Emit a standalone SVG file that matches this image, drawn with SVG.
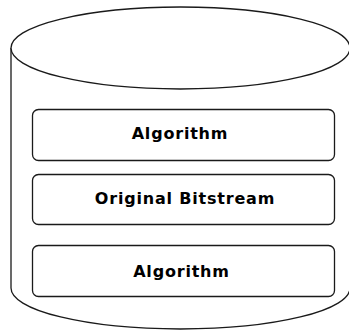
<svg xmlns="http://www.w3.org/2000/svg" width="349" height="330" viewBox="0 0 349 330">
<style>
.cyl{fill:#fff;stroke:#1a1a1a;stroke-width:1.3}
.box{fill:#fff;stroke:#1a1a1a;stroke-width:1.3}
.lbl{font-family:"DejaVu Sans",Verdana,sans-serif;font-weight:bold;font-size:16px;letter-spacing:0.8px;fill:#000;text-anchor:middle}
</style>
<rect width="349" height="330" fill="#fff"/>
<g id="cylinder">
<path class="cyl" d="M11,48 L11,288 A169.5,41 0 0 0 350,288 L350,48"/>
<ellipse class="cyl" cx="180.5" cy="48" rx="169.5" ry="41"/>
</g>
<g id="algorithm-top">
<rect class="box" x="32.5" y="109.5" width="302" height="51" rx="6"/>
<text class="lbl" x="180" y="138.5">Algorithm</text>
</g>
<g id="original-bitstream">
<rect class="box" x="32.5" y="174.5" width="302" height="50" rx="6"/>
<text class="lbl" x="185" y="203.5">Original Bitstream</text>
</g>
<g id="algorithm-bottom">
<rect class="box" x="32.5" y="245.5" width="302" height="51" rx="6"/>
<text class="lbl" x="181.5" y="276.5">Algorithm</text>
</g>
<g id="connectors"></g>
</svg>
